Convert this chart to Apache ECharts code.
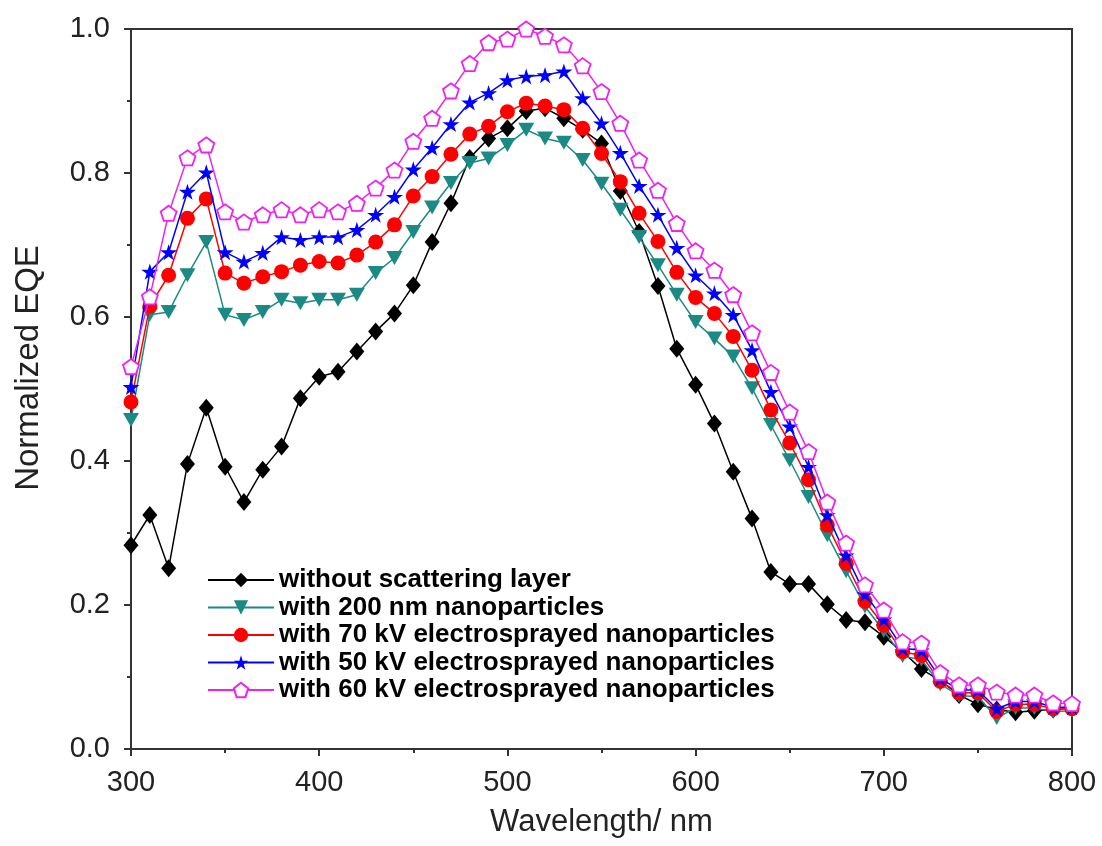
<!DOCTYPE html>
<html>
<head>
<meta charset="utf-8">
<script src="https://cdn.jsdelivr.net/npm/echarts@6/dist/echarts.min.js"></script>
<style>
html,body{margin:0;padding:0;background:#fff;}
#chart{width:1102px;height:846px;}
</style>
</head>
<body>
<div id="chart"></div>
<script>
const wavelengths = [300,310,320,330,340,350,360,370,380,390,400,410,420,430,440,450,460,470,480,490,500,510,520,530,540,550,560,570,580,590,600,610,620,630,640,650,660,670,680,690,700,710,720,730,740,750,760,770,780,790,800];

const seriesNames = [
  'without scattering layer',
  'with 200 nm nanoparticles',
  'with 70 kV electrosprayed nanoparticles',
  'with 50 kV electrosprayed nanoparticles',
  'with 60 kV electrosprayed nanoparticles'
];

const withoutLayer = [0.283,0.325,0.251,0.396,0.474,0.392,0.343,0.388,0.420,0.487,0.517,0.524,0.552,0.580,0.605,0.644,0.704,0.758,0.821,0.848,0.862,0.886,0.890,0.876,0.860,0.841,0.775,0.718,0.643,0.556,0.506,0.452,0.385,0.320,0.246,0.229,0.229,0.201,0.179,0.176,0.156,0.135,0.111,0.095,0.075,0.062,0.055,0.051,0.053,0.055,0.057];

const with200nm = [0.457,0.603,0.607,0.658,0.704,0.603,0.596,0.607,0.624,0.619,0.624,0.624,0.631,0.661,0.682,0.718,0.752,0.786,0.814,0.820,0.839,0.860,0.848,0.842,0.818,0.785,0.749,0.711,0.672,0.631,0.593,0.570,0.545,0.501,0.450,0.401,0.350,0.297,0.247,0.198,0.164,0.129,0.124,0.090,0.074,0.073,0.043,0.057,0.057,0.052,0.053];

const with70kV = [0.482,0.615,0.658,0.737,0.764,0.661,0.647,0.656,0.663,0.672,0.677,0.675,0.686,0.704,0.728,0.768,0.795,0.826,0.854,0.865,0.885,0.897,0.893,0.888,0.862,0.827,0.788,0.744,0.705,0.662,0.627,0.605,0.573,0.526,0.471,0.425,0.374,0.311,0.258,0.205,0.172,0.135,0.130,0.094,0.078,0.078,0.052,0.062,0.062,0.056,0.056];

const with50kV = [0.503,0.663,0.690,0.774,0.801,0.690,0.677,0.689,0.711,0.707,0.711,0.711,0.721,0.742,0.767,0.805,0.835,0.868,0.898,0.911,0.929,0.934,0.936,0.941,0.904,0.869,0.828,0.782,0.742,0.696,0.658,0.633,0.603,0.554,0.496,0.448,0.392,0.325,0.269,0.215,0.180,0.140,0.137,0.098,0.082,0.082,0.056,0.066,0.066,0.058,0.058];

const with60kV = [0.531,0.628,0.744,0.821,0.839,0.746,0.732,0.742,0.749,0.742,0.749,0.746,0.758,0.779,0.804,0.844,0.876,0.914,0.952,0.981,0.986,1.000,0.990,0.978,0.949,0.913,0.869,0.818,0.776,0.730,0.692,0.665,0.631,0.578,0.523,0.468,0.413,0.343,0.286,0.228,0.193,0.149,0.147,0.106,0.089,0.089,0.079,0.075,0.075,0.064,0.063];

const xTicks = [300,400,500,600,700,800];
const yTicks = [0.0,0.2,0.4,0.6,0.8,1.0];

const STAR = 'path://M50,0 L61,35 L98,35 L68,57 L79,91 L50,70 L21,91 L32,57 L2,35 L39,35 Z';
const PENTAGON = 'path://M50,0 L98,35 L79,91 L21,91 L2,35 Z';

function pairs(arr){ return wavelengths.map((w,i)=>[w, arr[i]]); }

const styles = [
  {color:'#000000', symbol:'diamond', size:[15,18], rotate:0, fill:'#000000'},
  {color:'#1b8a84', symbol:'triangle', size:[16,14], rotate:180, fill:'#1b8a84'},
  {color:'#ff0000', symbol:'circle', size:15, rotate:0, fill:'#ff0000'},
  {color:'#0000ff', symbol:STAR, size:17, rotate:0, fill:'#0000ff'},
  {color:'#ee22ee', symbol:PENTAGON, size:16, rotate:0, fill:'#ffffff'}
];
const dataSets = [withoutLayer, with200nm, with70kV, with50kV, with60kV];

const series = dataSets.map((d, i) => {
  const s = styles[i];
  return {
    name: seriesNames[i],
    type: 'line',
    data: pairs(d),
    symbol: s.symbol,
    symbolSize: s.size,
    symbolRotate: s.rotate,
    symbolKeepAspect: true,
    showAllSymbol: true,
    lineStyle: {color: s.color, width: 1.5},
    itemStyle: {color: s.fill, borderColor: s.color, borderWidth: i === 4 ? 1.8 : 0},
    emphasis: {disabled: true},
    z: 2 + i,
    animation: false
  };
});

const chart = echarts.init(document.getElementById('chart'), null, {renderer: 'canvas'});
chart.setOption({
  backgroundColor: '#ffffff',
  animation: false,
  grid: {
    left: 131, right: 30, top: 29, bottom: 97,
    show: true, borderColor: '#333', borderWidth: 2, backgroundColor: 'transparent'
  },
  legend: {
    orient: 'vertical',
    left: 202,
    top: 562,
    itemWidth: 66,
    itemHeight: 18,
    itemGap: 1.5,
    data: seriesNames,
    textStyle: {
      fontFamily: 'Liberation Sans, Arial, sans-serif',
      fontWeight: 'bold',
      fontSize: 26,
      lineHeight: 26,
      color: '#000'
    },
    selectedMode: false
  },
  xAxis: {
    type: 'value',
    min: 300, max: 800, interval: 100,
    name: 'Wavelength/ nm',
    nameLocation: 'middle',
    nameGap: 58,
    nameTextStyle: {fontFamily: 'Liberation Sans, Arial, sans-serif', fontSize: 31, color: '#222'},
    axisLine: {show: true, onZero: false, lineStyle: {color: '#333', width: 2}},
    axisTick: {show: true, inside: false, length: 7, lineStyle: {color: '#333', width: 2}},
    minorTick: {show: true, splitNumber: 2, length: 4, lineStyle: {color: '#333', width: 2}},
    splitLine: {show: false},
    axisLabel: {
      margin: 19,
      fontFamily: 'Liberation Sans, Arial, sans-serif',
      fontSize: 29, color: '#222',
      customValues: xTicks
    }
  },
  yAxis: {
    type: 'value',
    min: 0, max: 1, interval: 0.2,
    name: 'Normalized EQE',
    nameLocation: 'middle',
    nameGap: 86,
    nameTextStyle: {fontFamily: 'Liberation Sans, Arial, sans-serif', fontSize: 33, color: '#222', padding: [0,0,0,42]},
    axisLine: {show: true, onZero: false, lineStyle: {color: '#333', width: 2}},
    axisTick: {show: true, inside: false, length: 7, lineStyle: {color: '#333', width: 2}},
    minorTick: {show: true, splitNumber: 2, length: 4, lineStyle: {color: '#333', width: 2}},
    splitLine: {show: false},
    axisLabel: {
      margin: 21,
      fontFamily: 'Liberation Sans, Arial, sans-serif',
      fontSize: 29, color: '#222',
      formatter: function(v){ return yTicks.some(t => Math.abs(t - v) < 1e-9) ? v.toFixed(1) : ''; }
    }
  },
  series: series
});
</script>
</body>
</html>
